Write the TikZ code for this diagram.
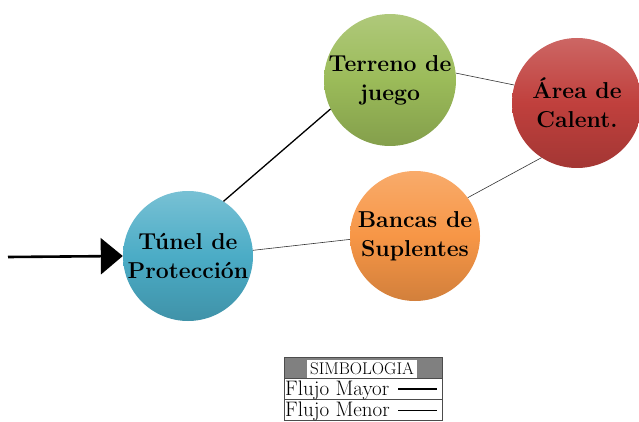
\documentclass[tikz,border=0pt]{standalone}
\usepackage{fontspec}
\usetikzlibrary{arrows.meta,shadows}
\definecolor{cblue}{RGB}{75,172,198}
\definecolor{cgreen}{RGB}{155,187,89}
\definecolor{cred}{RGB}{192,64,61}
\definecolor{corange}{RGB}{247,150,70}
\definecolor{lgray}{RGB}{128,128,128}
\tikzset{
  bubble/.style={circle, minimum size=130pt, inner sep=0pt, align=center,
    font=\fontsize{23}{29}\selectfont\bfseries, text=black},
  major/.style={line width=1.3pt, black},
  minor/.style={line width=0.6pt, black!80},
  legtxt/.style={font=\fontsize{21}{21}\selectfont, inner sep=0pt, anchor=west}
}
\begin{document}
\begin{tikzpicture}[x=1pt,y=-1pt]
\useasboundingbox (0,0) rectangle (639,422);
% circles
\node[bubble, top color=cblue!75!white, bottom color=cblue!85!black, middle color=cblue] (tun) at (188,256) {Túnel de\\Protección};
\node[bubble, top color=cgreen!80!white, bottom color=cgreen!85!black, middle color=cgreen] (ter) at (390,80) {Terreno de\\juego};
\node[bubble, top color=cred!80!white, bottom color=cred!85!black, middle color=cred] (are) at (577,103) {Área de\\Calent.};
\node[bubble, top color=corange!80!white, bottom color=corange!85!black, middle color=corange] (ban) at (415,236) {Bancas de\\Suplentes};
% connectors
\coordinate (s) at (8,257);
\draw[line width=2.6pt, -{Triangle[length=22pt,width=36pt]}] (s) -- (tun.west);
\draw[major] (tun.57) -- (ter.206);
\draw[minor] (ter.6) -- (are.164);
\draw[minor] (tun.5) -- (ban.183);
\draw[minor] (ban.36) -- (are.237);
% legend
\fill[lgray] (284,357) rectangle (442,378);
\node[fill=white, minimum width=110pt, minimum height=18pt, inner sep=0pt,
  font=\fontsize{17}{17}\selectfont] (hdr) at (362,369) {SIMBOLOGIA};
\draw[line width=0.6pt, black!70] (284,357) rectangle (442,420);
\draw[line width=0.6pt, black!70] (284,378) -- (442,378);
\draw[line width=0.6pt, black!70] (284,399) -- (442,399);
\node[legtxt] (may) at (285,390) {Flujo Mayor};
\node[legtxt] (men) at (285,411) {Flujo Menor};
\coordinate (a1) at (398,389); \coordinate (a2) at (437,389);
\coordinate (b1) at (398,410); \coordinate (b2) at (437,410);
\draw[line width=1.6pt] (a1) -- (a2);
\draw[line width=0.6pt] (b1) -- (b2);
\end{tikzpicture}
\end{document}
